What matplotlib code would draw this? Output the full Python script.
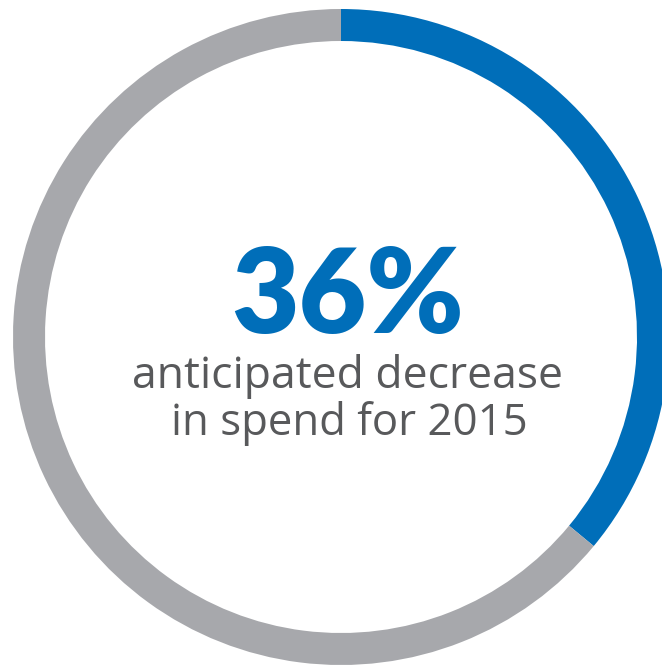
import matplotlib.pyplot as plt

# share of the ring
labels = ["decrease", "rest"]
values = [36, 64]
colors = ["#006eb9", "#a7a8ac"]

headline = "36%"
caption = ["anticipated decrease", "in spend for 2015"]

W, H = 662, 669
fig = plt.figure(figsize=(W / 100, H / 100), dpi=100)

# ring centre and radius in pixels
cx, cy, r = 341, 337, 328
ax = fig.add_axes([(cx - r) / W, (H - cy - r) / H, 2 * r / W, 2 * r / H])
ax.pie(values, colors=colors, startangle=90, counterclock=False,
       radius=1, wedgeprops=dict(width=32 / r, linewidth=0))
ax.set_xlim(-1, 1)
ax.set_ylim(-1, 1)
ax.axis("off")


def px(x, y):
    return (x - cx) / r, (cy - y) / r


ax.text(*px(348, 333), headline, ha="center", va="baseline",
        fontsize=84, fontweight="heavy", family="Lato", color=colors[0])
ax.text(*px(348, 388), caption[0], ha="center", va="baseline",
        fontsize=32, family="Open Sans", color="#58595b")
ax.text(*px(349, 435), caption[1], ha="center", va="baseline",
        fontsize=31.5, family="Open Sans", color="#58595b")

fig.savefig("out.png", dpi=100)
